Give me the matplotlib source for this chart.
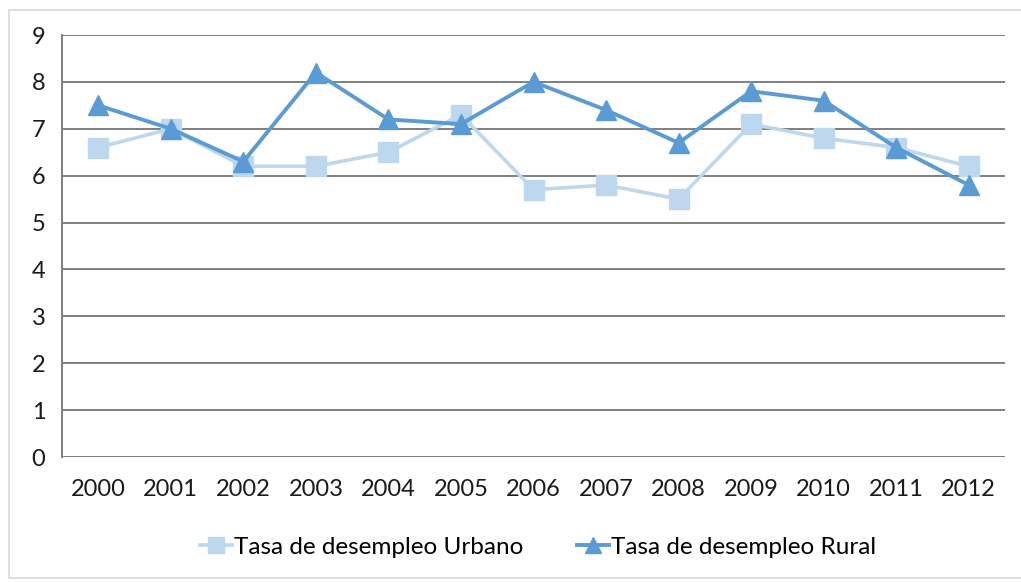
import matplotlib.pyplot as plt
from matplotlib.patches import Rectangle

years = ['2000', '2001', '2002', '2003', '2004', '2005', '2006',
         '2007', '2008', '2009', '2010', '2011', '2012']
urbano = [6.6, 7.0, 6.2, 6.2, 6.5, 7.3, 5.7, 5.8, 5.5, 7.1, 6.8, 6.6, 6.2]
rural = [7.5, 7.0, 6.3, 8.2, 7.2, 7.1, 8.0, 7.4, 6.7, 7.8, 7.6, 6.6, 5.8]

plt.rcParams['font.family'] = ['Lato', 'DejaVu Sans']

fig = plt.figure(figsize=(10.21, 5.82), dpi=100)
ax = fig.add_axes([62 / 1021, 1 - 457 / 582, 943 / 1021, 422 / 582])

x = list(range(len(years)))
ax.plot(x, urbano, color='#BDD7EE', lw=2.6, marker='s', ms=14,
        label='Tasa de desempleo Urbano', zorder=3)
ax.plot(x, rural, color='#5B9BD5', lw=2.8, marker='^', ms=14,
        label='Tasa de desempleo Rural', zorder=4)

ax.set_xlim(-0.5, len(years) - 0.5)
ax.set_ylim(0, 9)
ax.set_yticks(range(10))
ax.set_xticks(x)
ax.set_xticklabels(years)
ax.tick_params(axis='both', length=0, labelsize=17, colors='#1a1a1a')
ax.tick_params(axis='x', pad=16)
ax.tick_params(axis='y', pad=12)
ax.grid(axis='y', color='#7f7f7f', lw=1.4)
ax.set_axisbelow(True)
for s in ['top', 'right', 'bottom']:
    ax.spines[s].set_visible(False)
ax.spines['left'].set_color('#7f7f7f')
ax.spines['left'].set_linewidth(1.4)
ax.axhline(0, color='#7f7f7f', lw=1.4, zorder=1)

leg = fig.legend(loc='center', bbox_to_anchor=(0.527, 1 - 547 / 582), ncol=2,
                 frameon=False, fontsize=17.5, handlelength=1.3,
                 columnspacing=2.2, handletextpad=0.1, markerscale=0.85)

fig.patches.append(Rectangle((9 / 1021, 4 / 582), 1015 / 1021, 568 / 582,
                             transform=fig.transFigure, fill=False,
                             edgecolor='#d9d9d9', lw=1.2))

fig.savefig('out.png', dpi=100)
